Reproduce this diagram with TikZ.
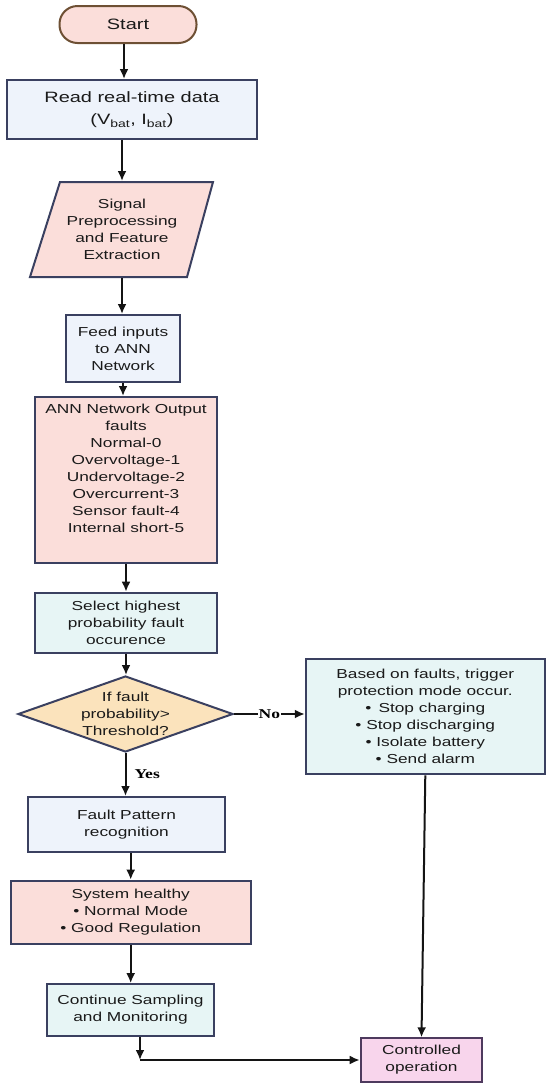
\documentclass[tikz,border=0pt]{standalone}
\usepackage{fontspec}
\setmainfont{Liberation Sans}[FakeStretch=1.33]
\newfontfamily\yfont{Liberation Serif}[FakeStretch=1.3]
\usetikzlibrary{arrows.meta,shapes.geometric}
\definecolor{bd}{HTML}{3A4060}
\definecolor{startbd}{HTML}{6E5034}
\definecolor{ctrlbd}{HTML}{4E3A5E}
\definecolor{txt}{HTML}{1A1A1A}
\definecolor{pinkA}{HTML}{FBDEDA}
\definecolor{blueA}{HTML}{EEF3FB}
\definecolor{cyanA}{HTML}{E7F5F5}
\definecolor{orangeA}{HTML}{FBE3BC}
\definecolor{magA}{HTML}{F8D5EC}
\newcommand\nfont{\fontsize{13}{17}\selectfont}
\newcommand\rfont{\fontsize{15}{22}\selectfont}
\newcommand\lfont{\yfont\bfseries\fontsize{13.5}{15}\selectfont}
\tikzset{
  box/.style={draw=bd, line width=2pt, align=center, inner sep=2pt, text=txt, font=\nfont},
  arr/.style={draw=black!92, line width=2pt, -{Latex[length=10pt,width=9pt]}},
  lbl/.style={font=\lfont, text=black, inner sep=1pt},
}
\begin{document}
\begin{tikzpicture}[x=1pt,y=-1pt]
\useasboundingbox (0,0) rectangle (550,1088);
\fill[white] (0,0) rectangle (550,1088);

% nodes
\node[box, draw=startbd, fill=pinkA, rounded corners=18pt, minimum width=137, minimum height=37, font=\rfont] (start) at (128,24.5) {Start};
\node[box, fill=blueA, minimum width=250, minimum height=59, font=\rfont] (read) at (132,109.5) {Read real-time data\\(V\textsubscript{bat}, I\textsubscript{bat})};

\filldraw[fill=pinkA, draw=bd, line width=2pt, line join=miter] (60,182) -- (213,182) -- (187,277) -- (30,277) -- cycle;
\node[box, draw=none, minimum width=150, minimum height=95] (sig) at (122,229.5) {Signal\\Preprocessing\\and Feature\\Extraction};

\node[box, fill=blueA, minimum width=114, minimum height=67] (feed) at (123,348.5) {Feed inputs\\to ANN\\Network};
\node[box, fill=pinkA, minimum width=182, minimum height=166] (ann) at (126,480) {ANN Network Output\\faults\\Normal-0\\Overvoltage-1\\Undervoltage-2\\Overcurrent-3\\Sensor fault-4\\Internal short-5\rule[-23pt]{0pt}{23pt}};
\node[box, fill=cyanA, minimum width=182, minimum height=60] (sel) at (126,622.7) {Select highest\\probability fault\\occurence};

\node[draw=bd, line width=2pt, fill=orangeA, shape=diamond, minimum width=215, minimum height=76, inner sep=0pt] (dec) at (125.5,714) {};
\node[align=center, text=txt, font=\nfont] (dect) at (dec.center) {If fault\\probability>\\Threshold?};

\node[box, fill=cyanA, minimum width=239, minimum height=115] (prot) at (425.3,716.8) {Based on faults, trigger\\protection mode occur.\\\textbullet\hspace{0.55em}Stop charging\\\textbullet\ Stop discharging\\\textbullet\ Isolate battery\\\textbullet\ Send alarm};

\node[box, fill=blueA, minimum width=197, minimum height=55] (fp) at (126.5,824.5) {Fault Pattern\\recognition};
\node[box, fill=pinkA, minimum width=240, minimum height=63.6] (sh) at (130.7,912.5) {System healthy\\\textbullet\ Normal Mode\\\textbullet\ Good Regulation};
\node[box, fill=cyanA, minimum width=167.6, minimum height=51.7] (cont) at (130.5,1010) {Continue Sampling\\and Monitoring};
\node[box, draw=ctrlbd, fill=magA, minimum width=121.6, minimum height=43.4] (ctrl) at (421.5,1060) {Controlled\\operation};
\coordinate (j) at (140,1060);

% connectors
\draw[arr] ([xshift=-4pt]start.south) -- ([xshift=-4pt]start.south |- read.north);
\draw[arr] (sig.north |- read.south) -- (sig.north);
\draw[arr] (sig.south) -- (sig.south |- feed.north);
\draw[arr] (feed.south) -- (feed.south |- ann.north);
\draw[arr] (ann.south) -- (sel.north);
\draw[arr] (sel.south) -- (sel.south |- dec.north);
\draw[arr] (dec.east) -- node[lbl, fill=white] {No} (dec.east -| prot.west);
\draw[arr] (dec.south) -- node[lbl, right, xshift=7pt] {Yes} (dec.south |- fp.north);
\draw[arr] (sh.north |- fp.south) -- (sh.north);
\draw[arr] (sh.south) -- (sh.south |- cont.north);
\draw[arr] (j |- cont.south) -- (j);
\draw[arr] (j) -- (ctrl.west);
\draw[arr] (prot.south) -- (ctrl.north);
\end{tikzpicture}
\end{document}
